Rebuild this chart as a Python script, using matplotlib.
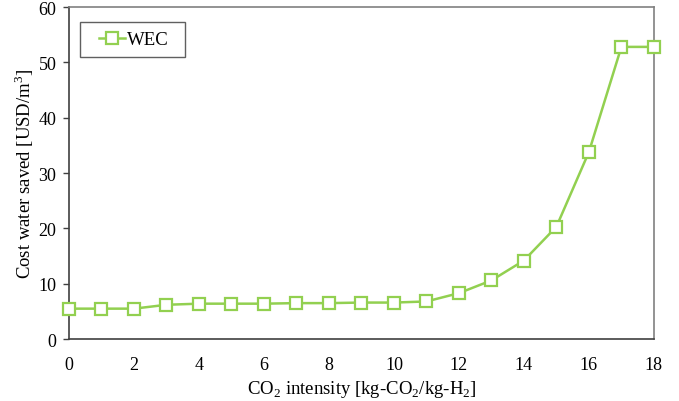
import numpy as np
import matplotlib.pyplot as plt
from matplotlib.patches import Rectangle

plt.rcParams['font.family'] = ['Liberation Serif', 'DejaVu Serif']
plt.rcParams['mathtext.fontset'] = 'custom'
plt.rcParams['mathtext.rm'] = 'Liberation Serif'

# data
co2_intensity = [0, 1, 2, 3, 4, 5, 6, 7, 8, 9, 10, 11, 12, 13, 14, 15, 16, 17, 18]
cost_saved = [5.5, 5.5, 5.5, 6.2, 6.4, 6.4, 6.4, 6.5, 6.5, 6.6, 6.6, 6.8,
              8.3, 10.6, 14.2, 20.3, 33.8, 52.8, 52.8]

fig = plt.figure(figsize=(6.79, 4.02), dpi=100)
ax = fig.add_axes([0.1016, 0.154, 0.8614, 0.826])

ax.plot(co2_intensity, cost_saved, color='#92D050', linewidth=1.8,
        marker='s', markersize=9, markerfacecolor='white',
        markeredgecolor='#92D050', markeredgewidth=1.6, label='WEC',
        clip_on=False, zorder=3)

ax.set_xlim(0, 18)
ax.set_ylim(0, 60)
ax.set_xticks(np.arange(0, 19, 2))
ax.set_yticks(np.arange(0, 61, 10))
ax.tick_params(labelsize=13, color='#404040', width=1)
ax.tick_params(axis='y', length=4, pad=5)
ax.tick_params(axis='x', length=0, pad=12)

for s in ax.spines.values():
    s.set_color('#808080')
    s.set_linewidth(1.2)
ax.spines['left'].set_color('#404040')
ax.spines['bottom'].set_color('#404040')

ax.set_xlabel(r'CO$_\mathrm{2}$ intensity [kg-CO$_\mathrm{2}$/kg-H$_\mathrm{2}$]',
              fontsize=13.5, labelpad=4)
ax.set_ylabel(r'Cost water saved [USD/m$^\mathrm{3}$]', fontsize=13.5, labelpad=2)

# legend without its own frame, box drawn separately
ax.legend(loc='center left', bbox_to_anchor=(0.052, 0.902), fontsize=13.5,
          frameon=False, borderpad=0, borderaxespad=0,
          handlelength=1.35, handletextpad=0.1)
ax.add_patch(Rectangle((0.019, 0.849), 0.179, 0.106, transform=ax.transAxes,
                       fill=False, edgecolor='#606060', linewidth=1.0, zorder=4))

plt.savefig('out.png', dpi=100)
